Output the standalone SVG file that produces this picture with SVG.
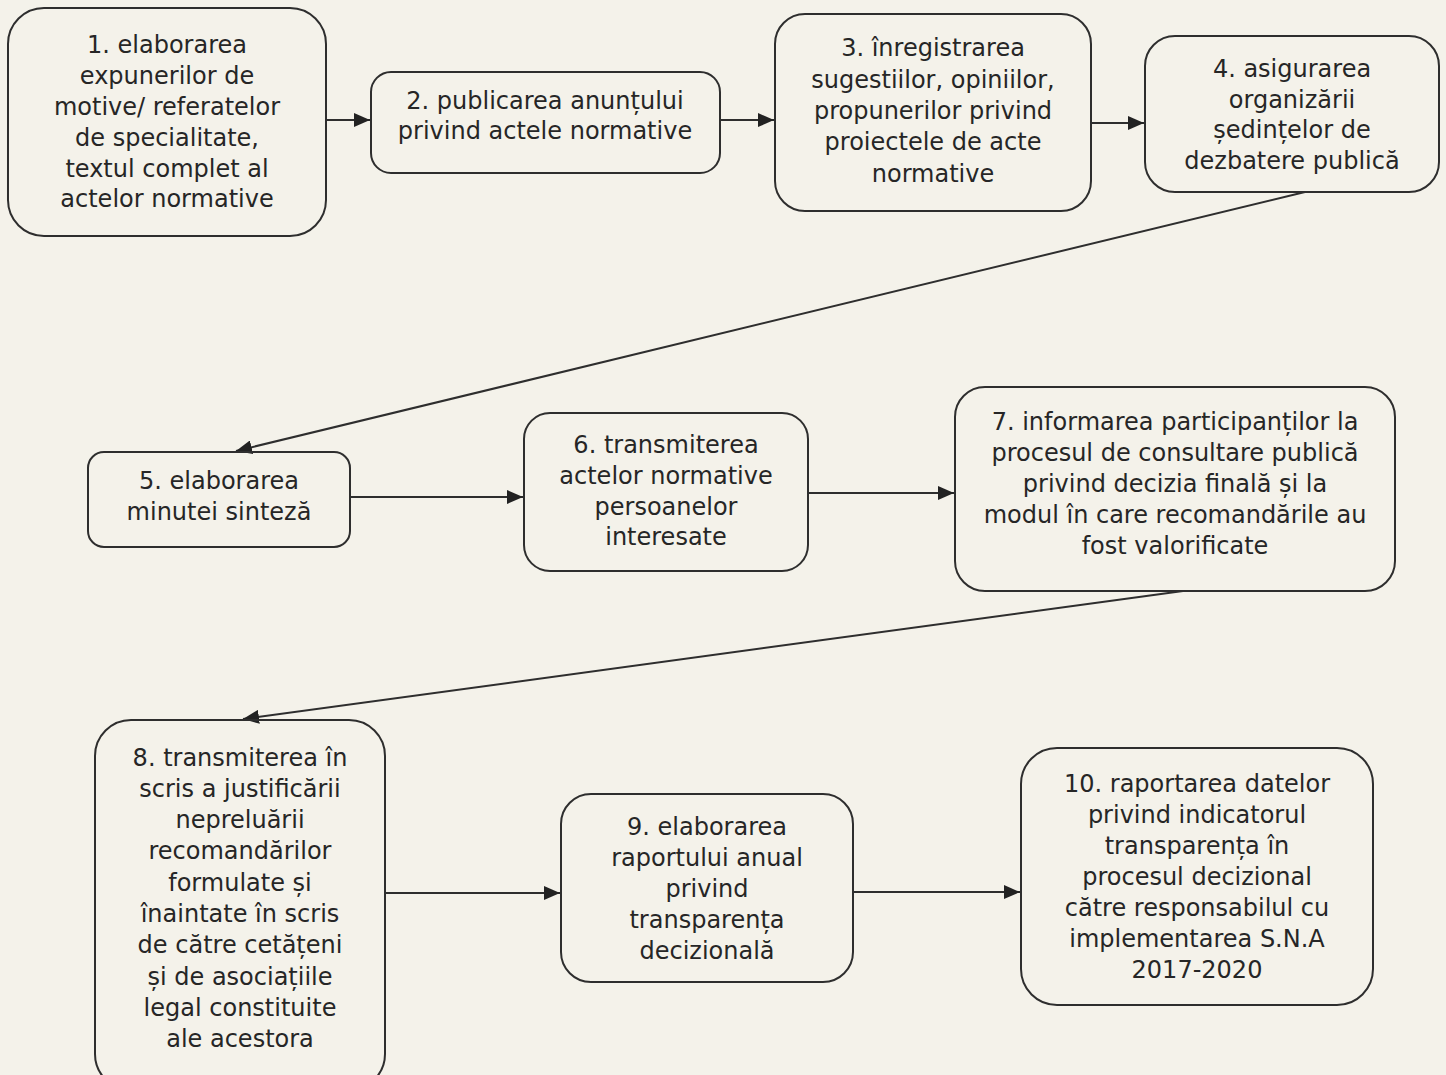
<svg xmlns="http://www.w3.org/2000/svg" width="1446" height="1075" viewBox="0 0 1446 1075">
<style>
.box{fill:none;stroke:#2e2e2e;stroke-width:2}
.t{font-family:"DejaVu Sans","Liberation Sans",Arial,sans-serif;font-size:24px;fill:#262626;text-anchor:middle}
.c{stroke:#2e2e2e;stroke-width:2;fill:none;marker-end:url(#ah)}
</style>
<defs>
<marker id="ah" viewBox="0 0 16 14" refX="16" refY="7" markerWidth="16" markerHeight="14" markerUnits="userSpaceOnUse" orient="auto">
<path d="M0,0 L16,7 L0,14 z" fill="#222"/>
</marker>
</defs>
<rect width="1446" height="1075" fill="#f4f2ea"/>
<g id="connectors">
<line class="c" x1="326" y1="120" x2="370" y2="120"/>
<line class="c" x1="720" y1="120" x2="774" y2="120"/>
<line class="c" x1="1091" y1="123" x2="1144" y2="123"/>
<line class="c" x1="1305" y1="192" x2="236" y2="451"/>
<line class="c" x1="350" y1="497" x2="523" y2="497"/>
<line class="c" x1="808" y1="493" x2="954" y2="493"/>
<line class="c" x1="1183" y1="591" x2="243" y2="719"/>
<line class="c" x1="385" y1="893" x2="560" y2="893"/>
<line class="c" x1="853" y1="892" x2="1020" y2="892"/>
</g>
<g id="n1">
<rect class="box" x="8" y="8" width="318" height="228" rx="36"/>
<text class="t" x="167" y="53">1. elaborarea</text>
<text class="t" x="167" y="84">expunerilor de</text>
<text class="t" x="167" y="115">motive/ referatelor</text>
<text class="t" x="167" y="146">de specialitate,</text>
<text class="t" x="167" y="177">textul complet al</text>
<text class="t" x="167" y="207">actelor normative</text>
</g>
<g id="n2">
<rect class="box" x="371" y="72" width="349" height="101" rx="20"/>
<text class="t" x="545" y="109">2. publicarea anunțului</text>
<text class="t" x="545" y="139">privind actele normative</text>
</g>
<g id="n3">
<rect class="box" x="775" y="14" width="316" height="197" rx="30"/>
<text class="t" x="933" y="56">3. înregistrarea</text>
<text class="t" x="933" y="88">sugestiilor, opiniilor,</text>
<text class="t" x="933" y="119">propunerilor privind</text>
<text class="t" x="933" y="150">proiectele de acte</text>
<text class="t" x="933" y="182">normative</text>
</g>
<g id="n4">
<rect class="box" x="1145" y="36" width="294" height="156" rx="30"/>
<text class="t" x="1292" y="77">4. asigurarea</text>
<text class="t" x="1292" y="108">organizării</text>
<text class="t" x="1292" y="138">ședințelor de</text>
<text class="t" x="1292" y="169">dezbatere publică</text>
</g>
<g id="n5">
<rect class="box" x="88" y="452" width="262" height="95" rx="16"/>
<text class="t" x="219" y="489">5. elaborarea</text>
<text class="t" x="219" y="520">minutei sinteză</text>
</g>
<g id="n6">
<rect class="box" x="524" y="413" width="284" height="158" rx="26"/>
<text class="t" x="666" y="453">6. transmiterea</text>
<text class="t" x="666" y="484">actelor normative</text>
<text class="t" x="666" y="515">persoanelor</text>
<text class="t" x="666" y="545">interesate</text>
</g>
<g id="n7">
<rect class="box" x="955" y="387" width="440" height="204" rx="30"/>
<text class="t" x="1175" y="430">7. informarea participanților la</text>
<text class="t" x="1175" y="461">procesul de consultare publică</text>
<text class="t" x="1175" y="492">privind decizia finală și la</text>
<text class="t" x="1175" y="523">modul în care recomandările au</text>
<text class="t" x="1175" y="554">fost valorificate</text>
</g>
<g id="n8">
<rect class="box" x="95" y="720" width="290" height="370" rx="36"/>
<text class="t" x="240" y="766">8. transmiterea în</text>
<text class="t" x="240" y="797">scris a justificării</text>
<text class="t" x="240" y="828">nepreluării</text>
<text class="t" x="240" y="859">recomandărilor</text>
<text class="t" x="240" y="891">formulate și</text>
<text class="t" x="240" y="922">înaintate în scris</text>
<text class="t" x="240" y="953">de către cetățeni</text>
<text class="t" x="240" y="985">și de asociațiile</text>
<text class="t" x="240" y="1016">legal constituite</text>
<text class="t" x="240" y="1047">ale acestora</text>
</g>
<g id="n9">
<rect class="box" x="561" y="794" width="292" height="188" rx="30"/>
<text class="t" x="707" y="835">9. elaborarea</text>
<text class="t" x="707" y="866">raportului anual</text>
<text class="t" x="707" y="897">privind</text>
<text class="t" x="707" y="928">transparența</text>
<text class="t" x="707" y="959">decizională</text>
</g>
<g id="n10">
<rect class="box" x="1021" y="748" width="352" height="257" rx="36"/>
<text class="t" x="1197" y="792">10. raportarea datelor</text>
<text class="t" x="1197" y="823">privind indicatorul</text>
<text class="t" x="1197" y="854">transparența în</text>
<text class="t" x="1197" y="885">procesul decizional</text>
<text class="t" x="1197" y="916">către responsabilul cu</text>
<text class="t" x="1197" y="947">implementarea S.N.A</text>
<text class="t" x="1197" y="978">2017-2020</text>
</g>
</svg>
